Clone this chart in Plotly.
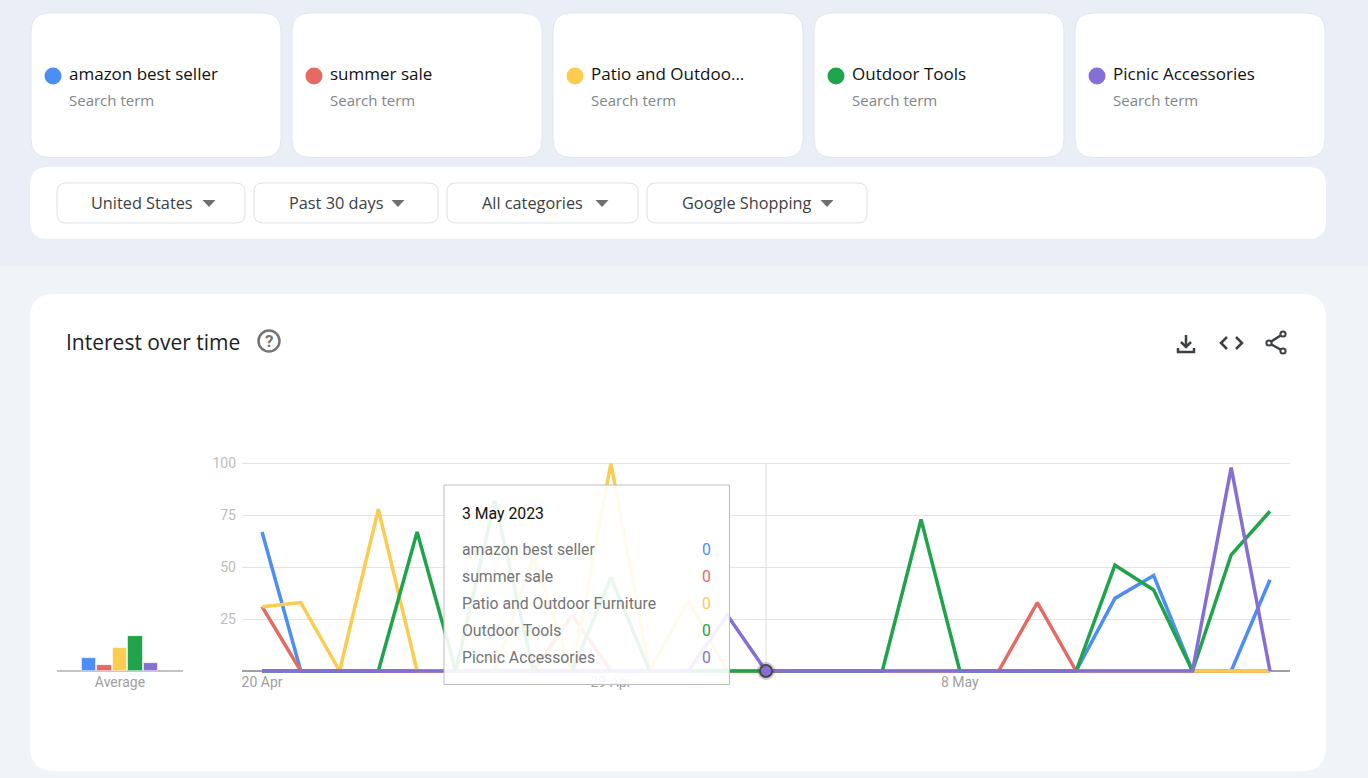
import plotly.graph_objects as go

W, H = 1368, 778

# ---- chart data ----
terms = ["amazon best seller", "summer sale", "Patio and Outdoor Furniture", "Outdoor Tools", "Picnic Accessories"]
card_labels = ["amazon best seller", "summer sale", "Patio and Outdoo...", "Outdoor Tools", "Picnic Accessories"]
filters = ["United States", "Past 30 days", "All categories", "Google Shopping"]

dates = [
    "2023-04-20", "2023-04-21", "2023-04-22", "2023-04-23", "2023-04-24", "2023-04-25", "2023-04-26",
    "2023-04-27", "2023-04-28", "2023-04-29", "2023-04-30", "2023-05-01", "2023-05-02", "2023-05-03",
    "2023-05-04", "2023-05-05", "2023-05-06", "2023-05-07", "2023-05-08", "2023-05-09", "2023-05-10",
    "2023-05-11", "2023-05-12", "2023-05-13", "2023-05-14", "2023-05-15", "2023-05-16",
]
amazon_best_seller = [67, 0, 0, 0, 0, 0, 0, 0, 0, 0, 0, 0, 0, 0, 0, 0, 0, 0, 0, 0, 0, 0, 35, 46, 0, 0, 44]
summer_sale = [31, 0, 0, 0, 0, 0, 0, 0, 27, 0, 0, 0, 0, 0, 0, 0, 0, 0, 0, 0, 33, 0, 0, 0, 0, 0, 0]
patio_furniture = [31, 33, 0, 78, 0, 0, 0, 55, 0, 100, 0, 34, 0, 0, 0, 0, 0, 0, 0, 0, 0, 0, 0, 0, 0, 0, 0]
outdoor_tools = [0, 0, 0, 0, 67, 0, 82, 0, 0, 45, 0, 0, 0, 0, 0, 0, 0, 73, 0, 0, 0, 0, 51, 39, 0, 56, 77]
picnic_accessories = [0, 0, 0, 0, 0, 0, 0, 0, 0, 0, 0, 0, 27, 0, 0, 0, 0, 0, 0, 0, 0, 0, 0, 0, 0, 98, 0]
averages = [6, 3, 11, 17, 4]

y_ticks = [0, 25, 50, 75, 100]
y_tick_labels = ["", "25", "50", "75", "100"]
x_tick_values = ["2023-04-20", "2023-04-29", "2023-05-08"]
x_tick_labels = ["20 Apr", "29 Apr", "8 May"]
hover_title = "3 May 2023"
hover_index = dates.index("2023-05-03")

colors = ["#4C8DF6", "#E56A61", "#FBCC4F", "#20A44B", "#876ED7"]
series = [amazon_best_seller, summer_sale, patio_furniture, outdoor_tools, picnic_accessories]


# ---- pixel helpers for the page furniture ----
def px(x):
    return x / W


def py(y):
    return 1 - y / H


def pt(x, y):
    return f"{px(x):.5f},{py(y):.5f}"


def round_rect(x0, y0, x1, y1, r):
    # paper-space rounded rectangle; the corner is a quadratic curve
    return (
        f"M {pt(x0 + r, y0)} L {pt(x1 - r, y0)} Q {pt(x1, y0)} {pt(x1, y0 + r)} "
        f"L {pt(x1, y1 - r)} Q {pt(x1, y1)} {pt(x1 - r, y1)} "
        f"L {pt(x0 + r, y1)} Q {pt(x0, y1)} {pt(x0, y1 - r)} "
        f"L {pt(x0, y0 + r)} Q {pt(x0, y0)} {pt(x0 + r, y0)} Z"
    )


def panel(x0, y0, x1, y1, r, fill="#FFFFFF", line=None, width=1, layer="below"):
    return dict(
        type="path", xref="paper", yref="paper", path=round_rect(x0, y0, x1, y1, r), fillcolor=fill,
        line=dict(color=line or "rgba(0,0,0,0)", width=width if line else 0), layer=layer,
    )


def rect(x0, y0, x1, y1, fill):
    return dict(type="rect", xref="paper", yref="paper", x0=px(x0), x1=px(x1), y0=py(y1), y1=py(y0),
                fillcolor=fill, line=dict(width=0), layer="below")


def circle(cx, cy, r, fill="rgba(0,0,0,0)", line=None, width=0):
    return dict(type="circle", xref="paper", yref="paper", x0=px(cx - r), x1=px(cx + r), y0=py(cy + r), y1=py(cy - r),
                fillcolor=fill, line=dict(color=line or "rgba(0,0,0,0)", width=width), layer="below")


def stroke(points, color="#3C4043", width=2.5):
    d = "M " + " L ".join(pt(x, y) for x, y in points)
    return dict(type="path", xref="paper", yref="paper", path=d, line=dict(color=color, width=width),
                fillcolor="rgba(0,0,0,0)", layer="below")


def text(x, y, s, size, color, family, anchor="left"):
    return dict(x=px(x), y=py(y), xref="paper", yref="paper", text=s, showarrow=False, xanchor=anchor,
                yanchor="middle", font=dict(size=size, color=color, family=family), borderpad=0, borderwidth=0)


HEAD_FONT = "Open Sans"
BODY_FONT = "Roboto"

shapes = [rect(0, 0, W, 266, "#EAEEF6"), rect(0, 266, W, H, "#F0F3F8")]
annotations = []

# search term cards
card_lefts = [31, 292, 553, 814, 1075]
for left, label, color in zip(card_lefts, card_labels, colors):
    shapes.append(panel(left, 13, left + 250, 157.5, 18, line="#E2E5EB"))
    shapes.append(circle(left + 22, 76, 8.5, fill=color))
    annotations.append(text(left + 38, 74, label, 17, "#111111", HEAD_FONT))
    annotations.append(text(left + 38, 100, "Search term", 15, "#80868B", HEAD_FONT))

# filter row
shapes.append(panel(30, 167, 1326, 239, 18))
chips = [(57, 245, 91, 209), (254, 438, 289, 398), (447, 638, 482, 602), (647, 867, 682, 827)]
for (x0, x1, tx, arrow), label in zip(chips, filters):
    shapes.append(panel(x0, 183, x1, 223, 9, line="#DFE1E5"))
    annotations.append(text(tx, 203, label, 16.3, "#3C4043", HEAD_FONT))
    shapes.append(dict(type="path", xref="paper", yref="paper", layer="below", fillcolor="#6F6F6F", line=dict(width=0),
                       path=f"M {pt(arrow - 6.5, 200)} L {pt(arrow + 6.5, 200)} L {pt(arrow, 207)} Z"))

# main card and its header
shapes.append(panel(30, 294, 1326, 771, 24))
annotations.append(text(66, 342, "Interest over time", 21, "#202124", HEAD_FONT))
shapes.append(circle(269, 341, 10.5, line="#757575", width=2.5))
annotations.append(text(269, 341, "<b>?</b>", 17, "#757575", BODY_FONT, anchor="center"))

# download icon
shapes.append(stroke([(1186, 335), (1186, 347)]))
shapes.append(stroke([(1181, 342), (1186, 347), (1191, 342)]))
shapes.append(stroke([(1178, 348), (1178, 352), (1194, 352), (1194, 348)]))
# embed icon
shapes.append(stroke([(1227, 337), (1221, 343), (1227, 349)]))
shapes.append(stroke([(1236, 337), (1242, 343), (1236, 349)]))
# share icon
shapes.append(stroke([(1283, 334), (1269, 343), (1283, 351)]))
for cx, cy in [(1283, 334), (1269, 343), (1283, 351)]:
    shapes.append(circle(cx, cy, 2.6, fill="#FFFFFF", line="#3C4043", width=2))

# hovered-date guide line
shapes.append(dict(type="line", xref="x", yref="y", x0=dates[hover_index], x1=dates[hover_index], y0=0, y1=100,
                   line=dict(color="#DDDDDD", width=1), layer="below"))

# tooltip box sits over the lines, which show faintly through it
shapes.append(dict(type="rect", xref="paper", yref="paper", x0=px(444), x1=px(729.5), y0=py(684.5), y1=py(485),
                   fillcolor="rgba(255,255,255,0.9)", line=dict(color="#BDBDBD", width=1), layer="above"))
annotations.append(text(462, 513, hover_title, 15.8, "#111111", BODY_FONT))
for i, (term, values, color) in enumerate(zip(terms, series, colors)):
    row_y = 549 + 27 * i
    annotations.append(text(462, row_y, term, 15.8, "#757575", BODY_FONT))
    annotations.append(text(711, row_y, str(values[hover_index]), 15.8, color, BODY_FONT, anchor="right"))

fig = go.Figure()

# one line per search term
for term, values, color in zip(terms, series, colors):
    fig.add_trace(go.Scatter(x=dates, y=values, mode="lines", name=term, cliponaxis=False,
                             line=dict(color=color, width=3.5), showlegend=False, xaxis="x", yaxis="y"))

# hover marker on the last series
fig.add_trace(go.Scatter(x=[dates[hover_index]], y=[picnic_accessories[hover_index]], mode="markers",
                         cliponaxis=False, showlegend=False, hoverinfo="skip",
                         marker=dict(size=18, color="rgba(60,60,60,0.25)", line=dict(width=0))))
fig.add_trace(go.Scatter(x=[dates[hover_index]], y=[picnic_accessories[hover_index]], mode="markers",
                         cliponaxis=False, showlegend=False, hoverinfo="skip",
                         marker=dict(size=12, color=colors[4], line=dict(color="#4A4A4A", width=2))))

# average bars on their own small axes
fig.add_trace(go.Bar(x=terms, y=averages, xaxis="x2", yaxis="y2", showlegend=False, width=0.94,
                     marker=dict(color=colors, line=dict(color="rgba(255,255,255,0.55)", width=1))))

# the value axes run a little past 0 and 100 so thick lines on those values stay whole
UNIT = (671 - 463.5) / 100
PAD = 5
y_domain = [py(671 + PAD * UNIT), py(463.5 - PAD * UNIT)]
y_range = [-PAD, 100 + PAD]

fig.update_layout(
    width=W,
    height=H,
    margin=dict(l=0, r=0, t=0, b=0, autoexpand=False),
    paper_bgcolor="#F0F3F8",
    plot_bgcolor="rgba(0,0,0,0)",
    shapes=shapes,
    annotations=annotations,
    bargap=0,
    xaxis=dict(
        automargin=False,
        domain=[px(242), px(1290)],
        anchor="free",
        position=py(671),
        type="date",
        range=["2023-04-19 11:36", "2023-05-16 12:24"],
        tickmode="array",
        tickvals=x_tick_values,
        ticktext=x_tick_labels,
        ticklabelstandoff=1,
        showgrid=False,
        zeroline=False,
        showline=False,
        ticks="",
        tickfont=dict(family=BODY_FONT, size=14, color="#A0A0A0"),
    ),
    yaxis=dict(
        automargin=False,
        domain=y_domain,
        range=y_range,
        tickmode="array",
        tickvals=y_ticks,
        ticktext=y_tick_labels,
        ticklabelstandoff=5,
        gridcolor="#E3E3E3",
        gridwidth=1,
        zeroline=True,
        zerolinecolor="#A0A0A0",
        zerolinewidth=1.5,
        showline=False,
        ticks="",
        tickfont=dict(family=BODY_FONT, size=14, color="#BDBDBD"),
    ),
    xaxis2=dict(
        automargin=False,
        domain=[px(57), px(183)],
        anchor="free",
        position=py(671),
        type="category",
        categoryorder="array",
        categoryarray=terms,
        range=[-2.09, 6.09],
        tickmode="array",
        tickvals=[terms[2]],
        ticktext=["Average"],
        ticklabelstandoff=1,
        showgrid=False,
        zeroline=False,
        showline=False,
        ticks="",
        tickfont=dict(family=BODY_FONT, size=14, color="#A0A0A0"),
    ),
    yaxis2=dict(
        automargin=False,
        domain=y_domain,
        anchor="x2",
        range=y_range,
        showgrid=False,
        zeroline=True,
        zerolinecolor="#C4C4C4",
        zerolinewidth=2,
        showticklabels=False,
        ticks="",
    ),
)

fig.write_html("out.html")
